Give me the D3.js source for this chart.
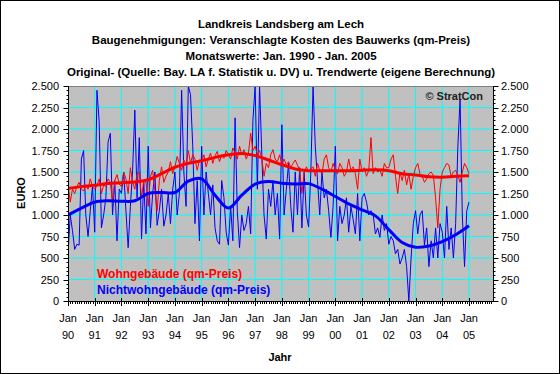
<html>
<head>
<meta charset="UTF-8">
<style>
  body { margin: 0; background: #fff; }
  text { font-family: Arial, "Liberation Sans", sans-serif; }
  .title { font-size: 11.5px; font-weight: bold; text-anchor: middle; }
  .tick { font-size: 11px; }
</style>
<script src="https://cdn.jsdelivr.net/npm/d3@7"></script>
</head>
<body>
<div class="chart"></div>
<script>

var titleLines = [
  "Landkreis Landsberg am Lech",
  "Baugenehmigungen: Veranschlagte Kosten des Bauwerks (qm-Preis)",
  "Monatswerte: Jan. 1990 - Jan. 2005",
  "Original- (Quelle: Bay. LA f. Statistik u. DV) u. Trendwerte (eigene Berechnung)"
];
var yearLabels = ["90","91","92","93","94","95","96","97","98","99","00","01","02","03","04","05"];
var seriesNames = ["Wohngebäude (qm-Preis)", "Nichtwohngebäude (qm-Preis)"];

// monthly values Jan 1990 .. Jan 2005 (one row per year)
var wohnRaw = [
  1370,1150,1300,1250,1330,1380,1300,1280,1350,1300,1420,1330,
  1300,1340,1420,1250,1350,1330,1420,1380,1150,1400,1470,1360,
  1330,1500,1420,1250,1550,1380,1300,1480,1500,1200,1400,1380,
  1100,1450,1520,1280,1050,1400,1560,1380,1450,1500,1620,1480,
  1560,1680,1600,1520,1640,1580,1750,1600,1700,1650,1520,1640,
  1620,1700,1560,1650,1720,1600,1690,1740,1620,1700,1660,1750,
  1700,1650,1780,1720,1650,1800,1700,1760,1650,1720,1950,1750,
  1800,1700,1750,1650,1450,1600,1550,1700,1760,1650,1620,1700,
  1600,1650,1580,1620,1550,1600,1640,1580,1520,1250,1480,1560,
  1500,1540,1560,1450,1600,1520,1480,1650,1700,1550,1500,1600,
  1520,1480,1600,1550,1450,1500,1650,1520,1560,1480,1300,1650,
  1500,1550,1450,1520,1900,1480,1550,1500,1520,1450,1600,1550,
  1550,1650,1700,1450,1250,1500,1400,1520,1350,1480,1300,1450,
  1550,1600,1480,1450,1380,1420,1480,1500,1460,1200,850,1300,
  1500,1550,1600,1580,1450,1500,1520,1460,1380,1500,1600,1550,
  1480
];
var nichtRaw = [
  540,1000,820,600,660,650,1650,1750,1000,750,1050,1340,
  800,2450,2080,850,1000,1200,1850,1950,1000,1400,700,1300,
  1250,1500,1050,620,1100,1520,2220,1200,1900,720,1400,780,
  1800,850,1250,1500,880,1050,1300,870,1000,1250,900,1300,
  1500,1000,1250,2450,1500,1100,2500,2400,1800,900,1400,700,
  1800,1000,1500,1250,1000,1350,850,700,660,1400,1200,800,
  650,1100,700,2130,1050,620,1000,820,900,1100,780,2100,
  2500,1300,2500,1700,1000,720,1300,1100,1400,1000,1250,720,
  2050,1000,1300,1600,1100,800,1500,1000,1550,850,1500,1000,
  860,1500,2500,1800,1400,1000,1500,1200,1300,1050,740,1100,
  1800,700,1100,900,1000,1200,800,1100,950,780,1250,700,
  1200,1250,1150,1000,1050,1000,780,850,740,1000,820,900,
  660,750,700,550,600,430,500,600,400,0,500,900,
  1050,780,1000,1050,650,850,400,700,500,850,500,900,
  800,500,1100,600,850,500,900,1800,2350,1000,400,1050,
  1150
];

// trend values, every six months (Jan/Jul)
var trendMonths = [0,6,12,18,24,30,36,42,48,54,60,66,72,78,84,90,96,102,108,114,120,126,132,138,144,150,156,162,168,174,180];
var wohnTrend = [1310,1330,1345,1365,1375,1385,1410,1480,1555,1600,1630,1670,1700,1715,1690,1640,
                 1585,1535,1515,1515,1515,1515,1520,1525,1515,1480,1465,1445,1440,1450,1455];
var nichtTrend = [1000,1080,1150,1165,1160,1165,1250,1262,1262,1395,1420,1230,1080,1230,1360,1390,
                  1370,1360,1365,1300,1215,1130,1060,990,830,680,625,640,690,770,875];

var W = 560, H = 374;
var plot = {left: 68, right: 493, top: 86, bottom: 301};

var svg = d3.select(".chart").append("svg")
    .attr("width", W)
    .attr("height", H);

svg.append("rect")
    .attr("x", 0.5).attr("y", 0.5)
    .attr("width", W - 1).attr("height", H - 1)
    .attr("fill", "#fff").attr("stroke", "#000");

var x = d3.scaleLinear().domain([0, 180]).range([plot.left, 469]);
var y = d3.scaleLinear().domain([0, 2500]).range([plot.bottom, plot.top]);

var de = d3.formatLocale({decimal: ",", thousands: ".", grouping: [3], currency: ["", " €"]});
var fmt = de.format(",");

// titles
svg.selectAll(".title")
    .data(titleLines)
  .enter().append("text")
    .attr("class", "title")
    .attr("x", 281)
    .attr("y", function(d, i) { return 28 + i * 16; })
    .text(function(d) { return d; });

// plot background
svg.append("rect")
    .attr("x", plot.left).attr("y", plot.top)
    .attr("width", plot.right - plot.left).attr("height", plot.bottom - plot.top)
    .attr("fill", "#c0c0c0");

var yMajor = d3.range(0, 2501, 250);
var yMinor = d3.range(0, 2501, 50);
var yearTicks = d3.range(0, 181, 12);
var monthTicks = d3.range(0, 191, 1);

// grid
svg.append("g").selectAll("line")
    .data(yMajor.filter(function(d) { return d > 0 && d < 2500; }))
  .enter().append("line")
    .attr("x1", plot.left).attr("x2", plot.right)
    .attr("y1", function(d) { return y(d); })
    .attr("y2", function(d) { return y(d); })
    .attr("stroke", "#00ffff");

svg.append("g").selectAll("line")
    .data(yearTicks.filter(function(d) { return d > 0; }))
  .enter().append("line")
    .attr("x1", function(d) { return x(d); })
    .attr("x2", function(d) { return x(d); })
    .attr("y1", plot.top).attr("y2", plot.bottom)
    .attr("stroke", "#00ffff");

// series
svg.append("clipPath").attr("id", "clip")
  .append("rect")
    .attr("x", plot.left).attr("y", plot.top)
    .attr("width", plot.right - plot.left).attr("height", plot.bottom - plot.top);

var g = svg.append("g").attr("clip-path", "url(#clip)");

var rawLine = d3.line()
    .x(function(d, i) { return x(i); })
    .y(function(d) { return y(d); });

var trendLine = d3.line()
    .x(function(d, i) { return x(trendMonths[i]); })
    .y(function(d) { return y(d); })
    .curve(d3.curveCatmullRom);

g.append("path").datum(nichtRaw)
    .attr("d", rawLine).attr("fill", "none")
    .attr("stroke", "#0000ff").attr("stroke-width", 1);

g.append("path").datum(wohnRaw)
    .attr("d", rawLine).attr("fill", "none")
    .attr("stroke", "#ff0000").attr("stroke-width", 1);

g.append("path").datum(nichtTrend)
    .attr("d", trendLine).attr("fill", "none")
    .attr("stroke", "#0000ff").attr("stroke-width", 3);

g.append("path").datum(wohnTrend)
    .attr("d", trendLine).attr("fill", "none")
    .attr("stroke", "#ff0000").attr("stroke-width", 3);

// plot frame
svg.append("line")
    .attr("x1", plot.left).attr("x2", plot.right)
    .attr("y1", plot.top + 0.5).attr("y2", plot.top + 0.5)
    .attr("stroke", "#808080");
svg.append("line")
    .attr("x1", plot.left).attr("x2", plot.right)
    .attr("y1", plot.bottom + 0.5).attr("y2", plot.bottom + 0.5)
    .attr("stroke", "#000");
svg.append("line")
    .attr("x1", plot.left + 0.5).attr("x2", plot.left + 0.5)
    .attr("y1", plot.top).attr("y2", plot.bottom + 1)
    .attr("stroke", "#000");
svg.append("line")
    .attr("x1", plot.right + 0.5).attr("x2", plot.right + 0.5)
    .attr("y1", plot.top).attr("y2", plot.bottom + 1)
    .attr("stroke", "#000");

// y axes ticks
[[plot.left + 0.5, -1], [plot.right + 0.5, 1]].forEach(function(side) {
  var ax = svg.append("g");
  ax.selectAll(".mn").data(yMinor).enter().append("line")
      .attr("x1", side[0]).attr("x2", side[0] + side[1] * 2)
      .attr("y1", function(d) { return Math.round(y(d)) + 0.5; })
      .attr("y2", function(d) { return Math.round(y(d)) + 0.5; })
      .attr("stroke", "#000");
  ax.selectAll(".mj").data(yMajor).enter().append("line")
      .attr("x1", side[0]).attr("x2", side[0] + side[1] * 5)
      .attr("y1", function(d) { return Math.round(y(d)) + 0.5; })
      .attr("y2", function(d) { return Math.round(y(d)) + 0.5; })
      .attr("stroke", "#000");
  ax.selectAll("text").data(yMajor).enter().append("text")
      .attr("class", "tick")
      .attr("x", side[1] < 0 ? plot.left - 9 : plot.right + 8)
      .attr("y", function(d) { return y(d) + 4; })
      .attr("text-anchor", side[1] < 0 ? "end" : "start")
      .text(function(d) { return fmt(d); });
});

// x axis ticks
svg.append("g").selectAll("line")
    .data(monthTicks)
  .enter().append("line")
    .attr("x1", function(d) { return Math.round(x(d)) + 0.5; })
    .attr("x2", function(d) { return Math.round(x(d)) + 0.5; })
    .attr("y1", plot.bottom).attr("y2", plot.bottom + 3)
    .attr("stroke", "#000");

svg.append("g").selectAll("line")
    .data(yearTicks)
  .enter().append("line")
    .attr("x1", function(d) { return Math.round(x(d)) + 0.5; })
    .attr("x2", function(d) { return Math.round(x(d)) + 0.5; })
    .attr("y1", plot.bottom - 3).attr("y2", plot.bottom + 5)
    .attr("stroke", "#000");

var xl = svg.append("g").selectAll("g")
    .data(yearLabels)
  .enter().append("g")
    .attr("transform", function(d, i) { return "translate(" + x(i * 12) + ",0)"; });
xl.append("text").attr("class", "tick").attr("text-anchor", "middle")
    .attr("y", 322).text("Jan");
xl.append("text").attr("class", "tick").attr("text-anchor", "middle")
    .attr("y", 339).text(function(d) { return d; });

// axis titles
svg.append("text")
    .attr("transform", "translate(25,193) rotate(-90)")
    .attr("text-anchor", "middle")
    .style("font-size", "11px").style("font-weight", "bold")
    .text("EURO");

svg.append("text")
    .attr("x", 280).attr("y", 361)
    .attr("text-anchor", "middle")
    .style("font-size", "11px").style("font-weight", "bold")
    .text("Jahr");

// legend texts
svg.selectAll(".leg")
    .data(seriesNames)
  .enter().append("text")
    .attr("x", 97)
    .attr("y", function(d, i) { return 278 + i * 16; })
    .style("font-size", "12px").style("font-weight", "bold")
    .attr("fill", function(d, i) { return i === 0 ? "#ff0000" : "#0000ff"; })
    .text(function(d) { return d; });

svg.append("text")
    .attr("x", 483).attr("y", 100)
    .attr("text-anchor", "end")
    .style("font-size", "11px").style("font-weight", "bold")
    .attr("fill", "#222")
    .text("© StratCon");

</script>
</body>
</html>
